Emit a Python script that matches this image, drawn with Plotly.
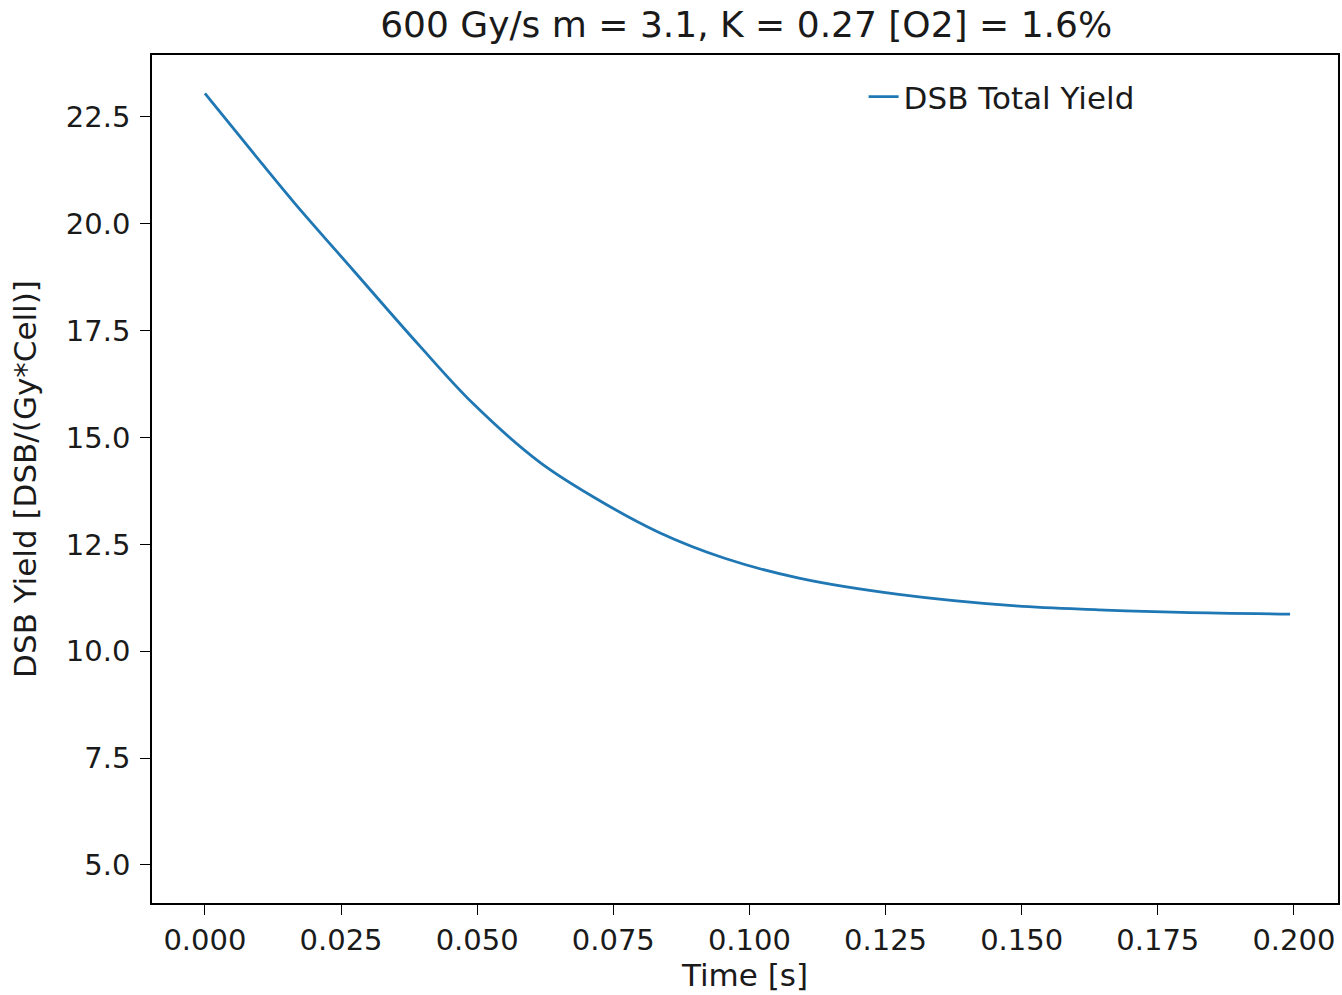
import plotly.graph_objects as go

time_s = [0.0, 0.0104, 0.0165, 0.0272, 0.0394, 0.0492, 0.0614, 0.0712,
          0.0834, 0.0956, 0.1091, 0.1274, 0.1489, 0.1641, 0.1793, 0.1993]
dsb_yield = [23.05, 21.42, 20.48, 18.92, 17.15, 15.80, 14.43, 13.62,
             12.78, 12.17, 11.71, 11.33, 11.06, 10.97, 10.91, 10.87]

x_ticks = [0.0, 0.025, 0.05, 0.075, 0.1, 0.125, 0.15, 0.175, 0.2]
y_ticks = [5.0, 7.5, 10.0, 12.5, 15.0, 17.5, 20.0, 22.5]

font_family = "DejaVu Sans"
text_color = "#1a1a1a"

fig = go.Figure()
fig.add_trace(go.Scatter(
    x=time_s, y=dsb_yield, mode="lines", name="DSB Total Yield",
    line=dict(color="#1f77b4", width=2.8, shape="spline", smoothing=1.0),
))

axis_common = dict(
    showline=True, linecolor="black", linewidth=1.6, mirror=True,
    ticks="outside", ticklen=10, tickwidth=1.3, tickcolor="black",
    showgrid=False, zeroline=False,
    tickfont=dict(family=font_family, size=29, color=text_color),
)

fig.update_layout(
    width=1342, height=995,
    margin=dict(l=152, r=2, t=55, b=92),
    paper_bgcolor="white", plot_bgcolor="white",
    title=dict(text="600 Gy/s m = 3.1, K = 0.27 [O2] = 1.6%",
               x=0.556, xanchor="center", y=0.975, yanchor="middle",
               font=dict(family=font_family, size=36, color=text_color)),
    xaxis=dict(range=[-0.00972, 0.2081], tickvals=x_ticks,
               ticktext=[f"{v:.3f}" for v in x_ticks],
               title=dict(text="Time [s]", standoff=8,
                          font=dict(family=font_family, size=31, color=text_color)),
               **axis_common),
    yaxis=dict(range=[4.11, 23.95], tickvals=y_ticks,
               ticktext=[f"{v:.1f}" for v in y_ticks],
               ticklabelstandoff=4,
               title=dict(text="DSB Yield [DSB/(Gy*Cell)]", standoff=20,
                          font=dict(family=font_family, size=31, color=text_color)),
               **axis_common),
    legend=dict(x=0.60, xanchor="left", y=0.9505, yanchor="middle",
                bgcolor="rgba(0,0,0,0)",
                font=dict(family=font_family, size=31, color=text_color)),
    showlegend=True,
)

fig.write_html("out.html")
